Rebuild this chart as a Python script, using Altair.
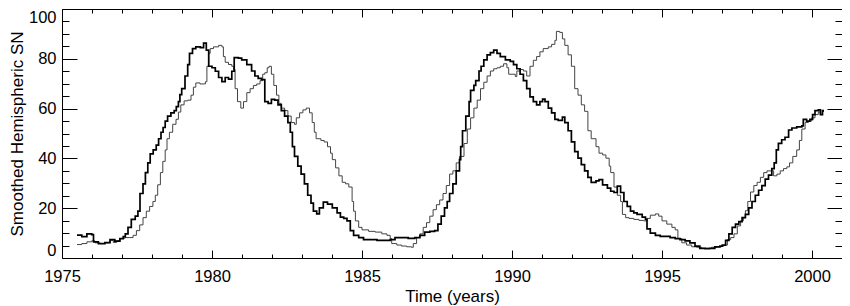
import altair as alt
import pandas as pd

# Northern hemisphere (thick black) – time in years, smoothed SN
north_t = [1975.50, 1975.66, 1975.83, 1975.99, 1976.05, 1976.21, 1976.43, 1976.60, 1976.76, 1976.93,
           1977.04, 1977.11, 1977.20, 1977.31, 1977.44, 1977.53, 1977.60, 1977.70, 1977.78, 1977.86,
           1977.94, 1978.04, 1978.14, 1978.22, 1978.30, 1978.37, 1978.44, 1978.52, 1978.63, 1978.74,
           1978.81, 1978.88, 1978.93, 1978.99, 1979.10, 1979.19, 1979.25, 1979.35, 1979.46, 1979.61,
           1979.72, 1979.81, 1979.89, 1980.00, 1980.11, 1980.22, 1980.33, 1980.44, 1980.55, 1980.66,
           1980.74, 1980.88, 1980.99, 1981.16, 1981.32, 1981.43, 1981.54, 1981.65, 1981.76, 1981.87,
           1981.98, 1982.09, 1982.20, 1982.31, 1982.42, 1982.53, 1982.61, 1982.68, 1982.75, 1982.86,
           1982.97, 1983.08, 1983.19, 1983.30, 1983.38, 1983.49, 1983.58, 1983.71, 1983.85, 1984.01,
           1984.17, 1984.28, 1984.39, 1984.50, 1984.61, 1984.72, 1984.89, 1985.05, 1985.27, 1985.50,
           1985.72, 1985.94, 1986.10, 1986.32, 1986.54, 1986.76, 1986.93, 1987.09, 1987.26, 1987.42,
           1987.53, 1987.64, 1987.75, 1987.84, 1987.92, 1988.03, 1988.14, 1988.25, 1988.29, 1988.35,
           1988.46, 1988.57, 1988.62, 1988.73, 1988.79, 1988.90, 1988.97, 1989.06, 1989.17, 1989.28,
           1989.39, 1989.50, 1989.61, 1989.78, 1989.94, 1990.05, 1990.16, 1990.27, 1990.38, 1990.49,
           1990.60, 1990.71, 1990.82, 1990.93, 1991.02, 1991.10, 1991.21, 1991.32, 1991.43, 1991.54,
           1991.68, 1991.76, 1991.87, 1991.98, 1992.09, 1992.20, 1992.31, 1992.42, 1992.53, 1992.64,
           1992.80, 1992.90, 1993.02, 1993.18, 1993.29, 1993.40, 1993.51, 1993.62, 1993.73, 1993.84,
           1993.95, 1994.06, 1994.17, 1994.34, 1994.45, 1994.50, 1994.61, 1994.78, 1994.94, 1995.11,
           1995.27, 1995.44, 1995.60, 1995.77, 1995.93, 1996.10, 1996.26, 1996.43, 1996.59, 1996.76,
           1996.93, 1997.01, 1997.12, 1997.23, 1997.34, 1997.45, 1997.56, 1997.67, 1997.78, 1997.89,
           1998.00, 1998.11, 1998.22, 1998.33, 1998.44, 1998.55, 1998.66, 1998.74, 1998.81, 1998.88,
           1998.99, 1999.10, 1999.22, 1999.33, 1999.49, 1999.66, 1999.71, 1999.82, 1999.93, 2000.02,
           2000.10, 2000.21, 2000.28, 2000.35, 2000.40]
north_sn = [9.2, 8.6, 9.7, 9.4, 6.5, 5.8, 6.2, 7.4, 6.8, 7.8,
            8.6, 9.7, 12.3, 15.5, 16.8, 18.8, 25.9, 29.8, 34.3, 38.2,
            41.8, 43.4, 45.3, 47.9, 50.5, 52.4, 55.0, 57.0, 58.3, 59.2,
            60.8, 62.8, 65.6, 68.0, 73.1, 77.7, 82.2, 84.1, 84.8, 84.5,
            86.3, 83.5, 77.0, 76.4, 75.0, 72.5, 70.8, 72.5, 71.8, 75.0,
            80.5, 80.3, 79.6, 77.7, 75.1, 73.1, 72.1, 71.6, 62.8, 62.1,
            63.7, 63.4, 61.5, 59.2, 57.0, 54.4, 50.5, 44.7, 40.8, 36.9,
            33.7, 29.8, 25.2, 22.0, 18.8, 17.7, 20.1, 22.4, 21.6, 20.1,
            18.1, 16.4, 15.9, 14.9, 11.0, 9.1, 8.2, 7.4, 7.4, 7.1,
            7.1, 7.4, 8.2, 8.2, 7.9, 8.2, 9.1, 10.4, 10.7, 11.0,
            13.6, 16.8, 20.1, 22.7, 25.9, 29.8, 35.0, 39.5, 44.7, 51.1,
            57.0, 62.8, 67.3, 69.3, 71.2, 75.1, 77.0, 79.6, 81.6, 82.5,
            83.5, 82.2, 80.9, 79.6, 79.0, 77.7, 76.0, 73.8, 71.2, 68.0,
            64.7, 62.8, 61.5, 62.8, 63.8, 62.8, 60.2, 58.3, 55.7, 55.3,
            56.6, 54.4, 51.1, 46.6, 42.7, 40.1, 37.5, 35.0, 32.4, 30.4,
            31.0, 31.5, 29.4, 28.1, 26.8, 26.3, 28.9, 26.3, 22.7, 20.7,
            18.8, 18.1, 17.5, 16.4, 15.5, 11.7, 10.0, 9.1, 8.7, 8.7,
            8.2, 7.8, 7.4, 6.9, 6.1, 4.8, 3.9, 3.8, 3.9, 4.5,
            4.8, 5.2, 7.1, 9.7, 12.3, 13.6, 14.6, 16.2, 17.5, 20.1,
            22.7, 25.2, 27.2, 29.1, 31.7, 33.3, 35.9, 38.2, 43.4, 46.0,
            47.5, 48.5, 51.4, 52.2, 52.7, 53.1, 55.7, 55.0, 55.7, 57.6,
            59.2, 59.5, 57.6, 59.2, 59.2]

# Southern hemisphere (thin grey)
south_t = [1975.50, 1975.66, 1975.83, 1975.99, 1976.10, 1976.27, 1976.43, 1976.60, 1976.71, 1976.82,
           1976.93, 1977.09, 1977.26, 1977.37, 1977.48, 1977.59, 1977.70, 1977.81, 1977.92, 1978.03,
           1978.11, 1978.19, 1978.28, 1978.36, 1978.44, 1978.50, 1978.58, 1978.69, 1978.80, 1978.88,
           1978.96, 1979.07, 1979.19, 1979.30, 1979.38, 1979.46, 1979.60, 1979.78, 1979.83, 1979.89,
           1979.94, 1980.05, 1980.22, 1980.33, 1980.38, 1980.44, 1980.55, 1980.66, 1980.72, 1980.77,
           1980.85, 1980.96, 1981.05, 1981.16, 1981.27, 1981.38, 1981.49, 1981.60, 1981.69, 1981.76,
           1981.84, 1981.90, 1981.98, 1982.06, 1982.15, 1982.23, 1982.31, 1982.42, 1982.53, 1982.64,
           1982.75, 1982.81, 1982.92, 1983.03, 1983.14, 1983.25, 1983.34, 1983.41, 1983.47, 1983.63,
           1983.74, 1983.85, 1983.95, 1984.01, 1984.12, 1984.23, 1984.34, 1984.45, 1984.56, 1984.67,
           1984.72, 1984.78, 1984.89, 1985.00, 1985.22, 1985.44, 1985.66, 1985.83, 1985.94, 1985.99,
           1986.16, 1986.32, 1986.49, 1986.65, 1986.71, 1986.82, 1986.93, 1987.04, 1987.15, 1987.26,
           1987.37, 1987.48, 1987.59, 1987.70, 1987.81, 1987.92, 1988.03, 1988.14, 1988.25, 1988.40,
           1988.51, 1988.62, 1988.73, 1988.84, 1988.95, 1989.06, 1989.17, 1989.28, 1989.39, 1989.50,
           1989.61, 1989.72, 1989.83, 1989.89, 1990.11, 1990.16, 1990.27, 1990.38, 1990.49, 1990.60,
           1990.71, 1990.82, 1990.93, 1991.04, 1991.21, 1991.32, 1991.43, 1991.48, 1991.59, 1991.68,
           1991.76, 1991.87, 1991.98, 1992.09, 1992.20, 1992.31, 1992.42, 1992.53, 1992.64, 1992.80,
           1992.90, 1993.02, 1993.13, 1993.24, 1993.29, 1993.40, 1993.51, 1993.62, 1993.68, 1993.79,
           1993.90, 1994.06, 1994.23, 1994.39, 1994.50, 1994.61, 1994.78, 1994.89, 1995.00, 1995.16,
           1995.33, 1995.44, 1995.53, 1995.66, 1995.82, 1995.99, 1996.15, 1996.32, 1996.48, 1996.65,
           1996.82, 1996.98, 1997.07, 1997.18, 1997.29, 1997.40, 1997.51, 1997.62, 1997.71, 1997.78,
           1997.86, 1997.95, 1998.06, 1998.17, 1998.28, 1998.39, 1998.50, 1998.72, 1998.83, 1998.94,
           1999.05, 1999.16, 1999.25, 1999.36, 1999.49, 1999.58, 1999.66, 1999.77, 1999.88, 1999.99,
           2000.10, 2000.21, 2000.28, 2000.35, 2000.40]
south_sn = [5.4, 5.8, 6.5, 6.9, 6.1, 5.8, 6.1, 7.1, 6.2, 6.9,
            7.8, 8.2, 8.2, 9.1, 11.0, 13.3, 16.2, 18.8, 20.7, 22.7,
            25.2, 29.4, 34.3, 38.8, 43.4, 47.9, 50.5, 53.7, 55.7, 58.6,
            61.5, 63.1, 63.4, 65.4, 68.6, 70.3, 69.9, 70.8, 77.0, 82.2,
            84.1, 84.8, 85.4, 84.8, 80.9, 78.6, 77.7, 77.0, 75.7, 68.0,
            62.8, 60.2, 62.8, 66.4, 68.0, 69.3, 69.9, 71.2, 73.8, 74.4,
            76.4, 77.0, 73.8, 69.3, 65.4, 62.1, 60.2, 59.2, 57.0, 54.4,
            53.7, 56.3, 58.3, 59.5, 60.2, 58.3, 54.4, 50.5, 47.9, 47.2,
            46.6, 44.7, 42.1, 39.5, 36.2, 33.0, 30.4, 29.8, 28.5, 22.7,
            18.8, 14.9, 12.3, 11.3, 10.7, 10.4, 9.7, 9.1, 7.8, 5.8,
            5.2, 4.8, 4.5, 4.3, 5.8, 8.2, 9.7, 12.3, 14.2, 16.8,
            19.4, 21.4, 23.3, 25.9, 29.1, 33.7, 35.0, 38.2, 40.8, 46.0,
            51.8, 56.3, 60.2, 63.4, 68.0, 70.6, 73.1, 75.1, 76.0, 76.4,
            77.0, 78.0, 76.4, 73.8, 72.9, 75.1, 75.7, 75.1, 73.1, 77.0,
            79.4, 80.9, 82.8, 84.1, 84.8, 85.8, 87.4, 91.0, 90.6, 88.0,
            85.4, 81.6, 77.0, 68.0, 65.4, 61.5, 58.9, 51.1, 47.9, 44.7,
            42.1, 41.4, 40.1, 36.9, 34.3, 28.5, 25.2, 22.7, 17.5, 16.2,
            15.9, 15.5, 15.1, 14.9, 15.9, 17.2, 17.7, 16.8, 14.9, 13.6,
            12.3, 11.3, 7.8, 6.1, 5.2, 4.5, 4.3, 3.9, 3.9, 4.3,
            4.5, 4.8, 5.2, 7.4, 8.2, 9.7, 12.9, 14.9, 16.2, 19.0,
            22.7, 26.5, 29.1, 30.4, 32.4, 34.3, 35.0, 33.0, 33.7, 35.0,
            35.9, 36.6, 38.2, 40.8, 43.4, 47.2, 51.8, 54.4, 55.0, 56.3,
            57.6, 58.6, 57.6, 58.9, 58.9]

x_major = [1975, 1980, 1985, 1990, 1995, 2000]
x_ticks = list(range(1975, 2002))
y_major = [0, 20, 40, 60, 80, 100]
y_ticks = list(range(0, 101, 5))

W, H = 780, 249
FONT = "Liberation Sans"

north = pd.DataFrame({"t": north_t, "sn": north_sn})
south = pd.DataFrame({"t": south_t, "sn": south_sn})

xs = alt.Scale(domain=[1975, 2001], nice=False, zero=False)
ys = alt.Scale(domain=[0, 100], nice=False, zero=True)

xdash = {"condition": {"test": "datum.value % 5 !== 0", "value": [4, 100]}, "value": [30, 0]}
ydash = {"condition": {"test": "datum.value % 20 !== 0", "value": [7, 100]}, "value": [30, 0]}


def tick_axis_x(orient):
    return alt.Axis(orient=orient, offset=-H, values=x_ticks, tickSize=8, tickDash=xdash,
                    tickColor="black", tickWidth=1, labels=False, domain=False, grid=False, title=None)


def tick_axis_y(orient):
    return alt.Axis(orient=orient, offset=-W, values=y_ticks, tickSize=15, tickDash=ydash,
                    tickColor="black", tickWidth=1, labels=False, domain=False, grid=False, title=None)


grey = alt.Chart(south).mark_line(interpolate="step-after", color="#444444", strokeWidth=1).encode(
    x=alt.X("t:Q", scale=xs, axis=tick_axis_x("top")),
    y=alt.Y("sn:Q", scale=ys, axis=tick_axis_y("right")),
)

black = alt.Chart(north).mark_line(interpolate="step-after", color="black", strokeWidth=1.7).encode(
    x=alt.X("t:Q", scale=xs, axis=alt.Axis(orient="bottom", values=x_major, format="d", ticks=False,
                                           tickSize=0, domain=False, grid=False, labelPadding=10,
                                           labelFlush=False, title="Time (years)", titlePadding=4)),
    y=alt.Y("sn:Q", scale=ys, axis=alt.Axis(orient="left", values=y_major, format="d", ticks=False,
                                            tickSize=0, domain=False, grid=False, labelPadding=6,
                                            labelFlush=True, title="Smoothed Hemispheric SN",
                                            titlePadding=2)),
)

ghost = alt.Chart(south).mark_line(opacity=0).encode(
    x=alt.X("t:Q", scale=xs, axis=tick_axis_x("bottom")),
    y=alt.Y("sn:Q", scale=ys, axis=tick_axis_y("left")),
)

chart = (
    alt.layer(grey, black, ghost)
    .resolve_axis(x="independent", y="independent")
    .properties(width=W, height=H, autosize=alt.AutoSizeParams(type="none"),
                padding={"left": 54, "top": 1, "right": 0, "bottom": 48})
    .configure_view(stroke="black", strokeWidth=1)
    .configure_axis(labelFont=FONT, labelFontSize=16.5, labelColor="black",
                    titleFont=FONT, titleFontSize=17, titleFontWeight="normal", titleColor="black")
)

chart.save("out.html", embed_options={"renderer": "svg", "actions": False})
